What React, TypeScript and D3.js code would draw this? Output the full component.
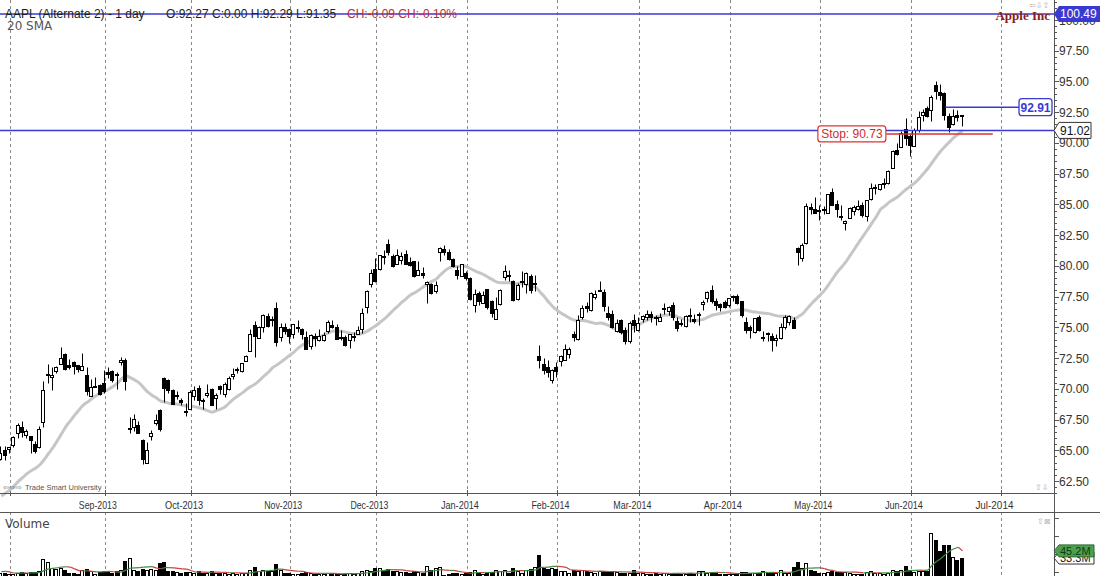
import { useMemo } from "react";
import * as d3 from "d3";

// AAPL daily bars, Jul 30 2013 – Jun 18 2014 (prices split-adjusted, volume in millions, unadjusted)
const startDate = "2013-07-30";
const holidays = [
  "2013-09-02", "2013-11-28", "2013-12-25", "2014-01-01", "2014-01-20",
  "2014-02-17", "2014-04-18", "2014-05-26", "2014-07-04",
];

// Jul 2 – Jul 29 2013 closes, only used to warm up the 20 SMA
const warmupCloses = [
  59.78, 60.11, 59.63, 59.29, 60.34, 60.1, 61.04, 60.93, 61.06, 61.46,
  61.47, 61.68, 60.71, 60.9, 59.86, 62.93, 62.64, 63.0, 63.97,
];
// Jul 22 – Jul 29 2013 volumes, warm-up for the volume average
const warmupVolumes = [7.0, 13.3, 21.6, 8.4, 7.1, 9.1];

const opens = [
  64.28, 65.0,
  65.11, 65.43, 66.38, 66.86, 66.27, 66.14, 65.52, 65.27, 67.28, 71.13, 70.92, 71.45, 72.03, 72.82, 71.94, 72.14, 71.9, 71.54, 71.14, 69.43, 70.24, 70.29,
  70.44, 71.37, 71.46, 71.21, 72.14, 72.31, 66.72, 66.93, 67.05, 65.86, 63.99, 66.17, 67.18, 68.29, 70.87, 70.7, 69.89, 69.43, 69.11, 68.18,
  68.35, 69.38, 70.07, 69.12, 69.51, 69.99, 69.23, 70.19, 69.57, 69.98, 71.07, 71.54, 71.43, 72.28, 73.11, 75.2, 74.14, 75.0, 75.9, 75.68, 76.61, 74.23, 75.0,
  74.86, 74.44, 74.94, 74.88, 74.23, 73.51, 74.28, 73.95, 74.0, 74.69, 75.23, 75.0, 74.15, 74.18, 73.94, 74.22, 74.43, 74.87, 76.62, 78.5,
  79.71, 79.76, 80.79, 81.81, 80.83, 80.13, 80.51, 80.98, 80.31, 80.41, 79.29, 79.4, 78.53, 78.5, 77.92, 81.14, 81.41, 81.16, 80.55, 79.64, 79.17,
  79.38, 78.98, 76.78, 77.76, 76.97, 78.11, 77.12, 75.7, 76.89, 79.07, 79.27, 78.78, 77.28, 78.7, 78.56, 79.14, 78.58, 72.68, 71.99, 71.79, 70.74,
  71.8, 72.26, 72.37, 72.87, 74.48, 74.09, 75.8, 76.71, 76.38, 77.5, 78.0, 77.89, 76.14, 76.11, 74.74, 75.63, 74.8, 73.88, 75.58,
  74.77, 75.71, 75.85, 76.11, 75.87, 75.48, 76.49, 76.36, 76.78, 75.54, 75.39, 75.13, 76.04, 75.7, 75.99, 76.92, 77.36, 78.07, 77.15, 76.9, 77.03,
  76.82, 77.48, 77.51, 77.12, 75.43, 75.03, 74.66, 75.81, 74.14, 74.56, 74.32, 74.01, 74.14, 75.05, 75.47, 75.58, 81.43, 80.65, 81.83, 84.82, 84.66,
  84.57, 84.62, 84.31, 85.97, 85.04, 84.04, 83.51, 83.93, 84.43, 84.63, 84.96, 84.09, 85.41, 86.36, 86.26, 86.66, 86.75, 87.98, 89.43, 89.69, 91.14,
  90.57, 89.78, 91.06, 92.31, 92.84, 92.7, 94.73, 94.13, 94.04, 92.2, 91.51, 92.31, 92.27,
];

const highs = [
  65.31, 65.33,
  65.26, 66.12, 67.24, 67.41, 66.71, 66.18, 65.78, 66.95, 70.67, 72.04, 71.77, 71.85, 73.39, 72.94, 72.45, 72.28, 71.91, 72.89, 71.79, 70.83, 70.93, 70.42,
  71.51, 71.75, 71.53, 71.34, 72.56, 72.49, 67.67, 67.91, 67.4, 65.94, 65.67, 66.62, 67.98, 68.36, 70.99, 70.78, 69.95, 69.79, 69.24, 68.81,
  69.88, 70.26, 70.34, 69.23, 70.38, 70.09, 69.68, 70.34, 70.55, 71.08, 71.71, 71.79, 72.11, 72.75, 74.9, 75.49, 75.1, 76.07, 76.18, 75.92, 77.04, 75.36, 75.36,
  74.97, 75.26, 75.56, 74.98, 74.74, 74.45, 74.52, 74.85, 74.61, 75.61, 75.58, 75.31, 74.77, 74.35, 74.48, 74.59, 75.12, 76.59, 78.0, 79.76,
  80.62, 80.91, 81.31, 82.16, 80.96, 81.37, 81.13, 81.29, 80.76, 80.41, 80.38, 79.92, 78.78, 78.57, 78.8, 81.53, 81.7, 81.36, 80.63, 80.01, 80.18,
  79.58, 79.1, 78.11, 77.99, 77.94, 78.12, 77.26, 77.5, 78.1, 80.03, 79.69, 78.87, 78.58, 79.61, 79.5, 79.37, 79.26, 73.57, 72.48, 72.36, 71.65,
  72.14, 72.78, 73.61, 73.36, 74.7, 76.0, 76.82, 77.08, 77.84, 78.0, 78.74, 78.13, 76.71, 76.37, 75.7, 75.65, 75.0, 75.54, 76.11,
  75.81, 76.02, 76.39, 76.35, 76.0, 76.19, 76.96, 76.76, 77.09, 75.84, 75.71, 76.0, 76.61, 76.1, 76.25, 77.21, 77.96, 78.43, 77.36, 76.99, 77.26,
  77.41, 77.64, 77.71, 77.14, 75.84, 75.16, 75.78, 76.03, 74.69, 74.59, 74.52, 74.44, 75.39, 76.02, 75.98, 75.88, 81.57, 81.86, 85.11, 85.14, 85.63,
  84.97, 84.89, 85.86, 86.34, 85.33, 84.92, 83.75, 84.81, 84.93, 85.34, 85.23, 85.36, 86.76, 86.63, 86.67, 87.12, 87.82, 89.41, 89.98, 90.98, 92.02,
  90.69, 91.25, 92.56, 92.77, 93.04, 93.88, 95.05, 94.76, 94.12, 92.44, 92.75, 92.7, 92.29,
];

const lows = [
  64.18, 64.2,
  64.75, 65.24, 66.02, 66.09, 65.97, 64.78, 64.81, 65.2, 66.86, 70.49, 69.87, 71.27, 72.0, 71.55, 71.6, 71.17, 71.34, 71.5, 69.47, 69.43, 70.16, 69.5,
  69.62, 70.9, 70.52, 69.99, 71.93, 69.93, 66.4, 66.57, 66.39, 63.89, 63.93, 65.81, 67.04, 66.57, 68.94, 69.69, 68.78, 69.13, 68.67, 67.77,
  68.34, 69.11, 68.68, 68.37, 69.34, 68.65, 68.33, 69.58, 69.31, 69.91, 70.79, 71.32, 71.38, 72.24, 73.07, 72.58, 74.14, 74.64, 75.02, 75.11, 73.51, 73.86, 74.47,
  73.69, 74.12, 74.64, 74.03, 73.2, 73.23, 73.49, 73.86, 73.85, 74.55, 74.93, 74.03, 74.0, 73.48, 73.35, 73.89, 74.43, 74.57, 76.2, 78.26,
  78.69, 79.67, 80.12, 80.92, 79.94, 80.13, 80.17, 80.14, 80.0, 79.1, 79.29, 79.05, 76.97, 77.68, 77.83, 80.39, 80.86, 80.48, 79.93, 78.9, 79.14,
  78.86, 77.2, 76.23, 76.85, 76.96, 76.48, 75.87, 75.7, 76.81, 78.81, 78.79, 77.13, 77.2, 78.26, 77.83, 77.82, 77.96, 71.72, 71.23, 70.96, 70.51,
  70.93, 71.82, 72.32, 72.54, 73.91, 74.0, 75.64, 76.24, 76.31, 77.32, 77.94, 76.34, 75.57, 74.94, 74.63, 74.43, 73.66, 73.72, 74.59,
  74.69, 75.41, 75.59, 75.44, 75.15, 75.48, 76.08, 76.0, 75.59, 74.71, 75.12, 75.03, 75.43, 75.34, 75.19, 76.44, 77.08, 76.98, 76.45, 76.32, 76.56,
  76.68, 77.18, 76.89, 75.8, 74.56, 74.1, 74.57, 74.74, 73.88, 73.89, 73.05, 73.49, 74.04, 74.85, 75.21, 74.92, 80.07, 80.42, 81.79, 84.22, 84.26,
  83.77, 84.24, 84.29, 84.92, 83.96, 83.77, 82.9, 83.91, 84.1, 84.53, 84.01, 83.63, 85.33, 85.82, 86.14, 86.3, 86.64, 87.95, 89.01, 89.68, 89.84,
  88.93, 89.75, 90.87, 91.8, 92.07, 91.75, 93.57, 93.47, 91.9, 90.88, 91.45, 91.8, 91.35,
];

const closes = [
  64.76, 64.65,
  65.24, 66.08, 67.06, 66.46, 66.53, 65.86, 64.92, 66.77, 69.94, 71.21, 71.13, 71.76, 72.53, 71.58, 71.77, 71.85, 71.57, 71.85, 69.8, 70.13, 70.24, 69.6,
  69.8, 71.24, 70.75, 71.17, 72.31, 70.66, 66.82, 67.53, 66.41, 64.3, 65.05, 66.38, 67.47, 66.77, 70.09, 69.87, 68.79, 69.46, 68.96, 68.11,
  69.71, 69.94, 69.06, 69.0, 69.68, 68.71, 69.51, 69.95, 70.4, 70.86, 71.24, 71.59, 72.07, 72.7, 74.48, 74.27, 74.99, 75.99, 75.14, 75.7, 73.81, 74.99, 74.67,
  74.29, 75.25, 75.06, 74.42, 73.21, 74.37, 74.15, 74.29, 74.38, 75.45, 75.0, 74.09, 74.22, 73.57, 74.45, 74.26, 74.82, 76.2, 77.99, 79.44,
  78.75, 80.9, 80.71, 81.13, 80.0, 80.92, 80.79, 80.19, 80.08, 79.2, 79.64, 79.28, 78.68, 77.78, 78.43, 81.44, 81.1, 80.56, 80.01, 79.22, 80.15,
  79.02, 77.28, 77.7, 77.15, 77.64, 76.65, 76.13, 76.53, 78.06, 79.62, 79.18, 77.24, 78.44, 78.79, 79.45, 78.01, 78.64, 72.36, 71.54, 71.4, 71.51,
  71.41, 72.68, 73.23, 73.22, 74.24, 75.57, 76.57, 76.56, 77.78, 77.71, 78.0, 76.77, 75.88, 75.04, 75.36, 74.58, 73.91, 75.38, 75.18,
  75.39, 75.89, 76.05, 75.82, 75.78, 75.85, 76.58, 76.66, 75.81, 74.96, 75.25, 75.91, 75.89, 75.53, 76.12, 77.03, 77.86, 77.11, 76.78, 76.69, 76.68,
  77.38, 77.51, 76.97, 75.97, 74.78, 74.78, 75.76, 74.78, 74.23, 74.53, 73.99, 74.14, 74.99, 75.88, 75.96, 74.96, 81.11, 81.71, 84.87, 84.62, 84.3,
  84.5, 84.65, 85.85, 84.92, 84.62, 84.0, 83.65, 84.69, 84.82, 84.84, 84.12, 85.36, 86.37, 86.39, 86.62, 86.75, 87.73, 89.38, 89.14, 90.77, 90.43,
  89.81, 91.08, 92.12, 92.48, 92.22, 93.7, 94.25, 93.86, 92.29, 91.28, 92.2, 92.08, 92.18,
];

const volumes = [
  8.0, 9.0,
  7.3, 7.0, 9.0, 10.0, 7.7, 9.6, 9.2, 12.0, 31.0, 27.0, 16.0, 15.0, 17.0, 13.0, 9.0, 9.0, 7.0, 13.0, 15.0, 11.0, 7.0, 10.0,
  12.0, 10.0, 8.0, 11.0, 13.0, 29.0, 33.0, 14.0, 12.0, 15.0, 14.0, 15.0, 13.0, 25.0, 27.0, 12.0, 11.0, 10.0, 8.0, 10.0,
  10.0, 9.0, 12.0, 9.0, 8.0, 11.0, 9.0, 9.0, 8.0, 7.0, 9.0, 7.0, 8.0, 8.0, 13.0, 19.0, 12.0, 13.0, 12.0, 11.0, 23.0, 14.0, 9.0,
  8.0, 7.0, 7.0, 9.0, 10.0, 8.0, 6.0, 7.0, 7.0, 8.0, 8.0, 7.0, 6.0, 7.0, 8.0, 7.0, 8.0, 12.0, 13.0, 11.0,
  17.0, 16.0, 13.0, 15.0, 12.0, 11.0, 10.0, 10.0, 9.0, 11.0, 10.0, 8.0, 20.0, 14.0, 16.0, 18.0, 5.0, 7.0, 8.0, 9.0, 7.0,
  8.0, 10.0, 14.0, 8.0, 7.0, 10.0, 10.0, 13.0, 12.0, 14.0, 9.0, 16.0, 12.0, 9.0, 14.0, 15.0, 19.0, 38.0, 17.0, 15.0, 17.0,
  15.0, 11.0, 12.0, 9.0, 13.0, 12.0, 14.0, 11.0, 10.0, 9.0, 11.0, 11.0, 10.0, 12.0, 10.0, 8.0, 9.0, 9.0, 13.0,
  8.0, 9.0, 7.0, 7.0, 8.0, 6.0, 9.0, 7.0, 9.0, 9.0, 7.0, 7.0, 8.0, 6.0, 12.0, 12.0, 9.0, 10.0, 8.0, 7.0, 6.0,
  7.0, 6.0, 8.0, 10.0, 10.0, 9.0, 8.0, 9.0, 11.0, 8.0, 10.0, 8.0, 13.0, 8.0, 8.0, 18.0, 27.0, 16.0, 25.0, 13.0, 11.0,
  9.0, 8.0, 10.0, 12.0, 10.0, 10.0, 10.0, 9.0, 7.0, 7.0, 7.0, 10.0, 11.0, 9.0, 8.0, 7.0, 8.0, 13.0, 11.0, 14.0, 20.0,
  13.0, 10.0, 11.0, 11.0, 12.0, 75.4, 62.8, 45.7, 54.7, 54.5, 35.6, 29.7, 33.3,
];

// horizontal levels drawn on the chart
const highLevel = 100.49;
const targetLevel = 92.91;
const lastLevel = 91.02;
const stopLevel = 90.73;
const targetFrom = "2014-06-12";
const stopFrom = "2014-05-01";
const stopTo = "2014-06-27";

const title = "AAPL (Alternate 2) - 1 day";
const ohlcText = "O:92.27 C:0.00 H:92.29 L:91.35";
const changeText = "CH:-0.09 CH:-0.10%";

const W = 1100;
const H = 576;
const PRICE_BOTTOM = 493;
const VOL_TOP = 512;
const VOL_BASE = 578;
const AXIS_X = 1054;

const fmtDay = d3.timeFormat("%Y-%m-%d");
const parseDay = d3.timeParse("%Y-%m-%d");
const fmtMonth = d3.timeFormat("%b-%Y");
const fmtVol = (v: number) => `${v.toFixed(1)}M`;

function tradingDays(from: string, count: number) {
  const out: Date[] = [];
  let d = parseDay(from) as Date;
  while (out.length < count) {
    const wd = d.getDay();
    if (wd !== 0 && wd !== 6 && !holidays.includes(fmtDay(d))) out.push(d);
    d = d3.timeDay.offset(d, 1);
  }
  return out;
}

const BLUE = "#3a3ad2";
const RED = "#dd3333";
const GRID = "#8a8a8a";
const FONT = "'Liberation Sans', Arial, Helvetica, sans-serif";

export default function App() {
  const cal = useMemo(() => tradingDays(startDate, 250), []);
  const dayIndex = useMemo(() => new Map(cal.map((d, i) => [fmtDay(d), i])), [cal]);

  const x = d3.scaleLinear().domain([-0.32, 244.2]).range([0, AXIS_X]);
  const y = d3.scaleLinear().domain([62.5, 100]).range([481, 20]);
  const yv = d3.scaleLinear().domain([0, 110]).range([VOL_BASE, VOL_BASE - 66]);

  const px = (i: number) => Math.round(x(i));
  const py = (v: number) => Math.round(y(v)) + 0.5;

  // 20 SMA of close
  const allCloses = warmupCloses.concat(closes);
  const w0 = warmupCloses.length;
  const sma = closes.map((_, i) => d3.mean(allCloses.slice(i + w0 - 19, i + w0 + 1)) as number);

  // volume average
  const allVols = warmupVolumes.concat(volumes);
  const v0 = warmupVolumes.length;
  const volMa = volumes.map((_, i) => d3.mean(allVols.slice(i + v0 - 6, i + v0 + 1)) as number);

  const smaLine = d3
    .line<number>()
    .x((_, i) => x(i))
    .y((d) => y(d))
    .curve(d3.curveMonotoneX);

  const monthStarts = cal
    .map((d, i) => ({ d, i }))
    .filter(({ d, i }) => i > 0 && d.getMonth() !== cal[i - 1].getMonth() && x(i) < AXIS_X);

  const majorTicks = d3.range(62.5, 100.01, 2.5);
  const minorTicks = d3.range(61.5, 101.6, 0.5).filter((v) => Math.abs(v / 2.5 - Math.round(v / 2.5)) > 1e-6);

  const lastVol = volumes[volumes.length - 1];
  const lastMa = volMa[volMa.length - 1];

  const targetX = x(dayIndex.get(targetFrom) as number);
  const stopX = x(dayIndex.get(stopFrom) as number);
  const stopEndX = x(dayIndex.get(stopTo) as number);

  const arrowBox = (yc: number, w: number, h: number) =>
    `M${AXIS_X},${yc} L${AXIS_X + 5},${yc - h / 2} L${AXIS_X + w},${yc - h / 2} L${AXIS_X + w},${yc + h / 2} L${AXIS_X + 5},${yc + h / 2} Z`;

  return (
    <div style={{ position: "absolute", left: 0, top: 0, width: W, height: H, background: "#fff" }}>
      <svg width={W} height={H} style={{ display: "block", fontFamily: FONT }}>
        <rect width={W} height={H} fill="#fff" />

        {/* month grid */}
        {monthStarts.map(({ i }) => {
          const gx = px(i) + 0.5;
          return (
            <g key={`g${i}`} stroke={GRID} strokeWidth={1}>
              <line x1={gx} x2={gx} y1={0} y2={PRICE_BOTTOM} strokeDasharray="3,3" />
              <line x1={gx} x2={gx} y1={VOL_TOP} y2={H} strokeDasharray="3,3" />
              <line x1={gx} x2={gx} y1={PRICE_BOTTOM - 3} y2={PRICE_BOTTOM + 3} stroke="#555" />
            </g>
          );
        })}

        {/* 20 SMA */}
        <path d={smaLine(sma) || ""} fill="none" stroke="#c6c6c6" strokeWidth={3} strokeLinejoin="round" />

        {/* candles */}
        {closes.map((c, i) => {
          const o = opens[i];
          const up = c >= o;
          const cx = px(i);
          const top = py(Math.max(o, c));
          const bot = py(Math.min(o, c));
          return (
            <g key={`c${i}`}>
              <line x1={cx - 0.5} x2={cx - 0.5} y1={py(highs[i])} y2={py(lows[i])} stroke="#000" strokeWidth={1} />
              <rect
                x={cx - 2.5}
                y={top}
                width={3}
                height={Math.max(bot - top, 1)}
                fill={up ? "#fff" : "#000"}
                stroke="#000"
                strokeWidth={1}
              />
            </g>
          );
        })}

        {/* level lines */}
        <line x1={0} x2={AXIS_X} y1={y(highLevel)} y2={y(highLevel)} stroke={BLUE} strokeWidth={1.5} />
        <line x1={0} x2={AXIS_X} y1={y(lastLevel)} y2={y(lastLevel)} stroke={BLUE} strokeWidth={1.5} />
        <line x1={targetX} x2={AXIS_X - 34} y1={y(targetLevel)} y2={y(targetLevel)} stroke={BLUE} strokeWidth={1.5} />
        <line x1={stopX + 66} x2={stopEndX} y1={y(stopLevel)} y2={y(stopLevel)} stroke={RED} strokeWidth={1.5} />

        <rect x={stopX - 2.5} y={y(stopLevel) - 8} width={68} height={16} rx={3} fill="#fff" stroke={RED} strokeWidth={1.2} />
        <text x={stopX + 31.5} y={y(stopLevel) + 4.5} textAnchor="middle" fontSize={12} fill="#d02a2a">
          {`Stop: ${stopLevel.toFixed(2)}`}
        </text>

        <rect x={AXIS_X - 35} y={y(targetLevel) - 8.5} width={33} height={17} rx={3} fill="#fff" stroke={BLUE} strokeWidth={1.3} />
        <text x={AXIS_X - 18.5} y={y(targetLevel) + 4.5} textAnchor="middle" fontSize={12} fontWeight={700} fill={BLUE}>
          {targetLevel.toFixed(2)}
        </text>

        {/* header */}
        <text x={5} y={17.5} fontSize={12} fill="#1a1a1a">{title}</text>
        <text x={166} y={17.5} fontSize={12} fill="#222">{ohlcText}</text>
        <text x={347} y={17.5} fontSize={12} fill="#c22a2f">{changeText}</text>
        <text x={7} y={29.5} fontSize={12} fill="#555" fontFamily="'DejaVu Sans', sans-serif">20 SMA</text>
        <text x={1050} y={20} textAnchor="end" fontSize={13} fontWeight={700} fill="#8b1c1c" fontFamily="'Liberation Serif', 'Times New Roman', serif">
          Apple Inc
        </text>
        <text x={1029} y={8} fontSize={8} fill="#b0b0b0" fontFamily="'DejaVu Sans', sans-serif">⇦⇩⇧</text>
        <text x={1035} y={490} fontSize={8} fill="#b0b0b0" fontFamily="'DejaVu Sans', sans-serif">⇧⇩</text>
        <text x={3} y={490} fontSize={7.5} fill="#777" fontFamily="'DejaVu Sans', sans-serif">⇦⇨⇨</text>
        <text x={25} y={490} fontSize={7.5} fill="#555">Trade Smart University</text>

        {/* panel frame */}
        <line x1={0} x2={AXIS_X} y1={PRICE_BOTTOM + 0.5} y2={PRICE_BOTTOM + 0.5} stroke="#555" />
        <line x1={0} x2={W} y1={VOL_TOP + 0.5} y2={VOL_TOP + 0.5} stroke="#555" />
        <line x1={AXIS_X + 0.5} x2={AXIS_X + 0.5} y1={0} y2={H} stroke="#555" />

        {/* month labels */}
        {monthStarts
          .filter(({ i }) => x(i) - 26 > 0)
          .map(({ d, i }) => (
            <text
              key={`m${i}`}
              x={x(i) - 7}
              y={509}
              textAnchor="middle"
              fontSize={11}
              textLength={38}
              lengthAdjust="spacingAndGlyphs"
              fill="#333"
            >
              {fmtMonth(d)}
            </text>
          ))}

        {/* price axis */}
        {minorTicks.map((v) => (
          <line key={`mi${v}`} x1={AXIS_X} x2={AXIS_X + 3} y1={py(v)} y2={py(v)} stroke="#555" />
        ))}
        {majorTicks.map((v) => (
          <g key={`ma${v}`}>
            <line x1={AXIS_X} x2={AXIS_X + 5} y1={py(v)} y2={py(v)} stroke="#555" />
            <text x={AXIS_X + 5} y={y(v) + 4.5} fontSize={12} fill="#333">{v.toFixed(2)}</text>
          </g>
        ))}

        <path d={arrowBox(y(highLevel), 46, 16)} fill={BLUE} />
        <text x={AXIS_X + 6} y={y(highLevel) + 4.5} fontSize={12} fill="#fff">{highLevel.toFixed(2)}</text>
        <path d={arrowBox(y(lastLevel), 37, 16)} fill="#fff" stroke="#333" strokeWidth={1} />
        <text x={AXIS_X + 6} y={y(lastLevel) + 4.5} fontSize={12} fill="#111">{lastLevel.toFixed(2)}</text>

        {/* volume panel */}
        <text x={5} y={528} fontSize={12} fill="#444" fontFamily="'DejaVu Sans', sans-serif">Volume</text>
        <text x={1037} y={524} fontSize={8} fill="#b0b0b0" fontFamily="'DejaVu Sans', sans-serif">⇧⊠</text>
        {volumes.map((v, i) => {
          const up = closes[i] >= opens[i];
          const cx = px(i);
          const top = Math.round(yv(v)) + 0.5;
          return (
            <rect
              key={`v${i}`}
              x={cx - 2.5}
              y={top}
              width={3}
              height={VOL_BASE - top}
              fill={up ? "#fff" : "#000"}
              stroke="#000"
              strokeWidth={1}
            />
          );
        })}
        {volMa.slice(1).map((m, k) => {
          const i = k + 1;
          return (
            <line
              key={`vm${i}`}
              x1={x(i - 1)}
              x2={x(i)}
              y1={yv(volMa[i - 1])}
              y2={yv(m)}
              stroke={m >= volMa[i - 1] ? "#3d8f3d" : "#c84040"}
              strokeWidth={1.2}
            />
          );
        })}
        {[10, 40, 70, 100].map((v) => (
          <line key={`vt${v}`} x1={AXIS_X} x2={AXIS_X + 5} y1={Math.round(yv(v)) + 0.5} y2={Math.round(yv(v)) + 0.5} stroke="#555" />
        ))}
        <path d={arrowBox(yv(lastVol), 40, 12)} fill="#fff" stroke="#333" strokeWidth={1} />
        <text x={AXIS_X + 6} y={yv(lastVol) + 4} fontSize={11} fill="#111">{fmtVol(lastVol)}</text>
        <path d={arrowBox(yv(lastMa), 40, 12)} fill="#4f9e4f" stroke="#2f6f2f" strokeWidth={1} />
        <text x={AXIS_X + 6} y={yv(lastMa) + 4} fontSize={11} fill="#0e3d0e">{fmtVol(lastMa)}</text>
      </svg>
    </div>
  );
}
